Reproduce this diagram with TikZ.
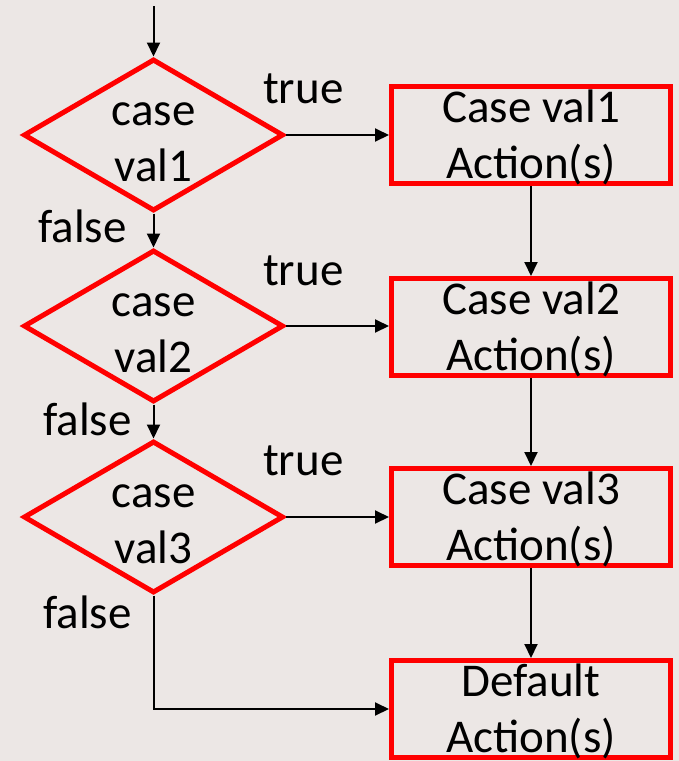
\documentclass[tikz,border=0pt]{standalone}
\usepackage{fontspec}
\setmainfont{Carlito}
\usetikzlibrary{shapes.geometric,arrows.meta}
\definecolor{bgtone}{RGB}{236,231,229}
% fixed line heights so every two-line caption sits the same way
\newcommand{\topstrut}{\rule{0pt}{40pt}}
\newcommand{\botstrut}{\rule[-10pt]{0pt}{10pt}}
\begin{document}
\begin{tikzpicture}[x=1pt,y=-1pt,
  every node/.style={font=\fontsize{47}{56}\selectfont, inner sep=0pt},
  decision/.style={diamond, draw=red, line width=5pt, minimum width=260pt,
    minimum height=152pt},
  actionbox/.style={rectangle, draw=red, line width=5pt, minimum width=279pt,
    minimum height=97pt},
  caption/.style={align=center},
  dcaption/.style={caption, yshift=-3pt},
  flow/.style={black, line width=2pt, -{Triangle[length=14pt,width=13pt]}},
  branch/.style={anchor=base west}
]
% page background
\fill[bgtone] (0,0) rectangle (679,761);
\useasboundingbox (0,0) rectangle (679,761);

% decisions
\node[decision, label={[dcaption, name=d1t]center:{\topstrut case\\val1\botstrut}}] (d1) at (153.5,135) {};
\node[decision, label={[dcaption, name=d2t]center:{\topstrut case\\val2\botstrut}}] (d2) at (153.5,326) {};
\node[decision, label={[dcaption, name=d3t]center:{\topstrut case\\val3\botstrut}}] (d3) at (153.5,517) {};

% actions
\node[actionbox, label={[caption, name=b1t]center:{\topstrut Case val1\\Action(s)\botstrut}}] (b1) at (531,135) {};
\node[actionbox, label={[caption, name=b2t]center:{\topstrut Case val2\\Action(s)\botstrut}}] (b2) at (531,327) {};
\node[actionbox, label={[caption, name=b3t]center:{\topstrut Case val3\\Action(s)\botstrut}}] (b3) at (531,517) {};
\node[actionbox, label={[caption, name=b4t]center:{\topstrut Default\\Action(s)\botstrut}}] (b4) at (531,709) {};

% entry point
\coordinate (start) at (153.5,6);

% connectors
\draw[flow] (start) -- (d1.north);
\draw[flow] (d1.south) -- (d2.north);
\draw[flow] (d2.south) -- (d3.north);
\draw[flow] (d1.east) -- (d1.east -| b1.west);
\draw[flow] (d2.east) -- (d2.east -| b2.west);
\draw[flow] (d3.east) -- (d3.east -| b3.west);
\draw[flow] (b1.south) -- (b2.north);
\draw[flow] (b2.south) -- (b3.north);
\draw[flow] (b3.south) -- (b4.north);
\draw[flow] (d3.south) |- (b4.west);

% branch labels
\node[branch] (t1) at (263,103) {true};
\node[branch] (t2) at (263,285) {true};
\node[branch] (t3) at (263,475) {true};
\node[branch] (f1) at (38,242) {false};
\node[branch] (f2) at (43,435) {false};
\node[branch] (f3) at (43,628) {false};
\end{tikzpicture}
\end{document}
